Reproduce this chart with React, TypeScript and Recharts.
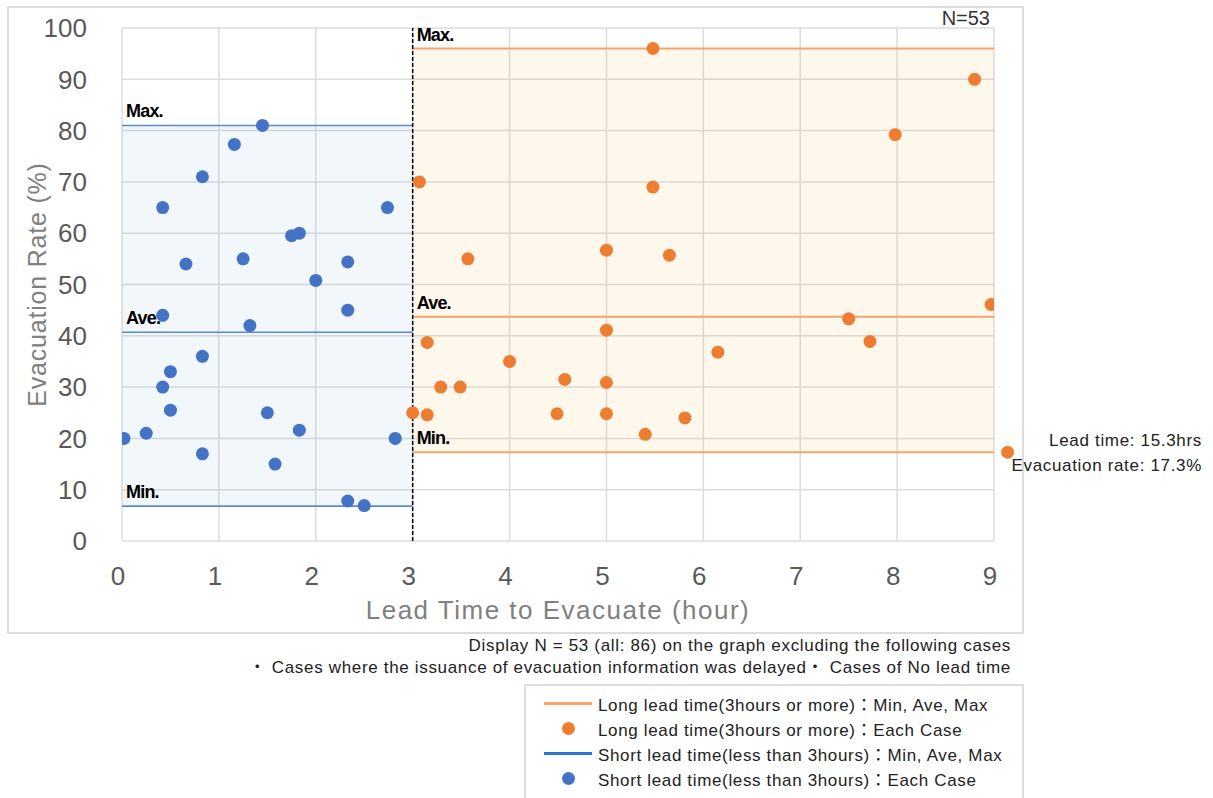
import { ScatterChart, Scatter, XAxis, YAxis, CartesianGrid, ReferenceArea, ReferenceLine, ReferenceDot, Label } from 'recharts';

// short lead time (< 3 hours), each case
const shortLead = [0.02, 0.25, 0.42, 0.42, 0.42, 0.5, 0.5, 0.66, 0.83, 0.83, 0.83, 1.16, 1.25, 1.32, 1.45, 1.5, 1.58, 1.75, 1.83, 1.83, 2.0, 2.33, 2.33, 2.33, 2.5, 2.74, 2.82];
const shortRate = [20, 21, 65, 44, 30, 33, 25.5, 54, 71, 36, 17, 77.3, 55, 42, 81, 25, 15, 59.5, 60, 21.6, 50.8, 54.4, 45, 7.8, 6.9, 65, 20];

// long lead time (3 hours or more), each case
const longLead = [3.0, 3.07, 3.15, 3.15, 3.29, 3.49, 3.57, 4.0, 4.49, 4.57, 5.0, 5.0, 5.0, 5.0, 5.4, 5.48, 5.48, 5.65, 5.81, 6.15, 7.5, 7.72, 7.98, 8.8, 8.97];
const longRate = [25, 70, 38.7, 24.6, 30, 30, 55, 35, 24.8, 31.5, 56.7, 41.1, 30.9, 24.8, 20.8, 96, 69, 55.7, 24, 36.8, 43.3, 38.9, 79.2, 90, 46.1];

// the off-scale case (15.3 hrs), drawn just past the right edge
const outlierLead = 15.3;
const outlierRate = 17.3;
const outlierShownAt = 9.14;

const statNames = ['Min.', 'Ave.', 'Max.'];
const shortStats = [6.8, 40.7, 81];
const longStats = [17.3, 43.7, 96];

const xTicks = [0, 1, 2, 3, 4, 5, 6, 7, 8, 9];
const yTicks = [0, 10, 20, 30, 40, 50, 60, 70, 80, 90, 100];

const legendItems = [
  { kind: 'line', color: '#F4A46C', text: 'Long lead time(3hours or more)：Min, Ave, Max' },
  { kind: 'dot', color: '#ED7D31', text: 'Long lead time(3hours or more)：Each Case' },
  { kind: 'line', color: '#2E75D6', text: 'Short lead time(less than 3hours)：Min, Ave, Max' },
  { kind: 'dot', color: '#4472C4', text: 'Short lead time(less than 3hours)：Each Case' },
];

const shortData = shortLead.map((x, i) => ({ x, y: shortRate[i] }));
const longData = longLead.map((x, i) => ({ x, y: longRate[i] }));

const FONT = '"Liberation Sans", Arial, "Noto Sans CJK JP", sans-serif';
const BLUE = '#4472C4';
const ORANGE = '#ED7D31';

const noteStyle = { fontSize: 17, letterSpacing: 0.67, color: '#222', whiteSpace: 'nowrap' as const };

const LineTag = (props: any) => {
  const vb = props.viewBox;
  if (!vb) return null;
  return (
    <text x={vb.x + 4} y={vb.y - 8} fontSize={18} fontWeight="bold" fill="#000" letterSpacing={-0.8} fontFamily={FONT}>
      {props.tag}
    </text>
  );
};

const dot = (color: string) => (props: any) => (
  <circle cx={props.cx} cy={props.cy} r={6.5} fill={color} />
);

export default function App() {
  return (
    <div style={{ position: 'absolute', left: 0, top: 0, width: 1213, height: 798, fontFamily: FONT, overflow: 'hidden' }}>
      <div style={{ position: 'absolute', left: 7, top: 6, width: 1013, height: 624, border: '2px solid #dcdcdc' }} />
      <div style={{ position: 'absolute', left: 0, top: 0 }}>
        <ScatterChart width={1213} height={798} margin={{ top: 28, right: 219, left: 12, bottom: 167 }}>
          <CartesianGrid stroke="#dcdcdc" strokeWidth={1.5} />
          <XAxis
            type="number"
            dataKey="x"
            domain={[0, 9]}
            ticks={xTicks}
            allowDataOverflow
            axisLine={false}
            tickLine={false}
            tickSize={0}
            tickMargin={26}
            height={90}
            tick={{ fill: '#595959', fontSize: 26, fontFamily: FONT, dx: -4 }}
          >
            <Label value="Lead Time to Evacuate (hour)" position="insideBottom" offset={12} fill="#808080" fontSize={26} letterSpacing={1.5} fontFamily={FONT} />
          </XAxis>
          <YAxis
            type="number"
            dataKey="y"
            domain={[0, 100]}
            ticks={yTicks}
            allowDataOverflow
            axisLine={false}
            tickLine={false}
            tickSize={0}
            tickMargin={35}
            width={110}
            tick={{ fill: '#595959', fontSize: 26, fontFamily: FONT }}
          >
            <Label value="Evacuation Rate (%)" angle={-90} position="insideLeft" offset={25} fill="#808080" fontSize={25} letterSpacing={0.8} fontFamily={FONT} style={{ textAnchor: 'middle' }} />
          </YAxis>

          <ReferenceArea x1={0} x2={3} y1={shortStats[0]} y2={shortStats[2]} fill="#5B9BD5" fillOpacity={0.08} stroke="none" />
          <ReferenceArea x1={3} x2={9} y1={longStats[0]} y2={longStats[2]} fill="#F5B041" fillOpacity={0.1} stroke="none" />

          {shortStats.map((v, i) => (
            <ReferenceLine
              key={'s' + i}
              segment={[{ x: 0, y: v }, { x: 3, y: v }]}
              stroke="#5B87D6"
              strokeWidth={1.6}
              label={<LineTag tag={statNames[i]} />}
            />
          ))}
          {longStats.map((v, i) => (
            <ReferenceLine
              key={'l' + i}
              segment={[{ x: 3, y: v }, { x: 9, y: v }]}
              stroke="#F4A46C"
              strokeWidth={2}
              label={<LineTag tag={statNames[i]} />}
            />
          ))}
          <ReferenceLine x={3} stroke="#000" strokeWidth={1.5} strokeDasharray="4 2" />

          <Scatter data={shortData} fill={BLUE} shape={dot(BLUE)} isAnimationActive={false} />
          <Scatter data={longData} fill={ORANGE} shape={dot(ORANGE)} isAnimationActive={false} />
          <ReferenceDot x={outlierShownAt} y={outlierRate} r={6.5} fill={ORANGE} stroke="none" ifOverflow="visible" />
        </ScatterChart>
      </div>

      <div style={{ position: 'absolute', right: 1213 - 990, top: 7, fontSize: 20, color: '#333' }}>N=53</div>

      <div style={{ ...noteStyle, position: 'absolute', right: 1213 - 1202, top: 428, textAlign: 'right', lineHeight: '25px' }}>
        <div>Lead time: {outlierLead}hrs</div>
        <div>Evacuation rate: {outlierRate}%</div>
      </div>

      <div style={{ ...noteStyle, position: 'absolute', right: 1213 - 1011, top: 635, textAlign: 'right', lineHeight: '22px' }}>
        <div>Display N = 53 (all: 86) on the graph excluding the following cases</div>
        <div>・ Cases where the issuance of evacuation information was delayed・ Cases of No lead time</div>
      </div>

      <div style={{ position: 'absolute', left: 524, top: 684, width: 496, height: 130, border: '2px solid #dcdcdc', background: '#fff' }}>
        {legendItems.map((it, i) => (
          <div key={i} style={{ position: 'absolute', left: 0, top: 5 + i * 25, height: 25, display: 'flex', alignItems: 'center', whiteSpace: 'nowrap' }}>
            <div style={{ width: 72, display: 'flex', justifyContent: 'center', alignItems: 'center' }}>
              {it.kind === 'line' ? (
                <div style={{ width: 48, height: 3, background: it.color, marginLeft: 12 }} />
              ) : (
                <div style={{ width: 13, height: 13, borderRadius: '50%', background: it.color, marginLeft: 12 }} />
              )}
            </div>
            <span style={{ ...noteStyle, letterSpacing: 0.65 }}>{it.text}</span>
          </div>
        ))}
      </div>
    </div>
  );
}
